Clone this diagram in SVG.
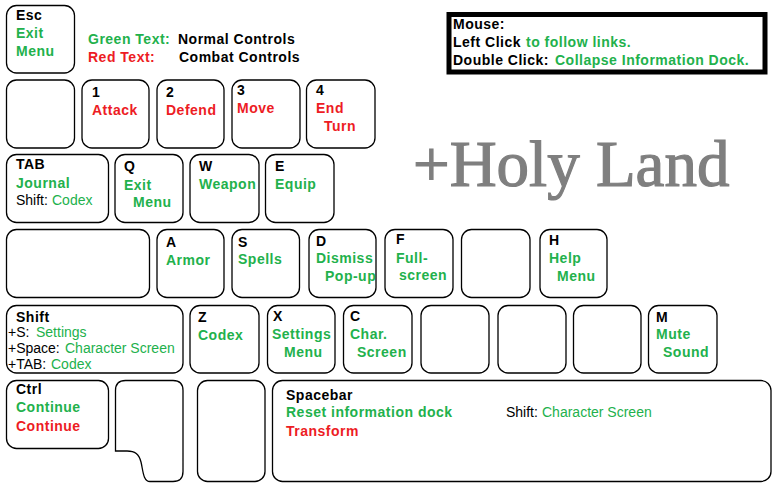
<svg xmlns="http://www.w3.org/2000/svg" width="779" height="490" viewBox="0 0 779 490">
<style>
.k{fill:#fff;stroke:#000;stroke-width:1.3}
text{font-family:"Liberation Sans",Arial,sans-serif;font-size:14px}
.b{font-weight:bold;letter-spacing:0.5px}
.r{font-weight:normal;letter-spacing:0px}
.g{fill:#22b14c}
.d{fill:#ed1c24}
.t{fill:#000}
</style>
<rect width="779" height="490" fill="#fff"/>

<g id="legend">
<text class="b g" x="88" y="44">Green Text:</text>
<text class="b t" x="178" y="44">Normal Controls</text>
<text class="b d" x="88" y="62">Red Text:</text>
<text class="b t" x="179" y="62">Combat Controls</text>
</g>

<g id="mouse">
<rect x="449" y="14.5" width="316" height="57.5" fill="#fff" stroke="#000" stroke-width="5"/>
<text class="b t" x="453" y="29">Mouse:</text>
<text class="b t" x="453" y="47">Left Click</text>
<text class="b g" x="526" y="47">to follow links.</text>
<text class="b t" x="453" y="65">Double Click:</text>
<text class="b g" x="555" y="65">Collapse Information Dock.</text>
</g>

<g id="title">
<text x="413" y="186" style="font-family:'Liberation Serif','Times New Roman',serif;font-size:65px" fill="#7f7f7f" stroke="#7f7f7f" stroke-width="1.2">+Holy Land</text>
</g>

<g id="key-esc">
<rect class="k" x="6.5" y="5.5" width="68" height="67.5" rx="10"/>
<text class="b t" x="16" y="20">Esc</text>
<text class="b g" x="16" y="38">Exit</text>
<text class="b g" x="16" y="56">Menu</text>
</g>

<g id="key-blank1"><rect class="k" x="6.5" y="80" width="68" height="68" rx="10"/></g>
<g id="key-1">
<rect class="k" x="82" y="80" width="67" height="68" rx="10"/>
<text class="b t" x="92" y="97">1</text>
<text class="b d" x="92" y="115">Attack</text>
</g>
<g id="key-2">
<rect class="k" x="157" y="80" width="67" height="68" rx="10"/>
<text class="b t" x="166" y="97">2</text>
<text class="b d" x="166" y="115">Defend</text>
</g>
<g id="key-3">
<rect class="k" x="232" y="80" width="68" height="68" rx="10"/>
<text class="b t" x="237" y="95">3</text>
<text class="b d" x="237" y="113">Move</text>
</g>
<g id="key-4">
<rect class="k" x="306.5" y="80" width="68.5" height="68" rx="10"/>
<text class="b t" x="316" y="95">4</text>
<text class="b d" x="316" y="113">End</text>
<text class="b d" x="324" y="131">Turn</text>
</g>

<g id="key-tab">
<rect class="k" x="6.5" y="154.5" width="102" height="68" rx="10"/>
<text class="b t" x="16" y="169">TAB</text>
<text class="b g" x="16" y="188">Journal</text>
<text class="r t" x="16" y="205">Shift:</text>
<text class="r g" x="52" y="205">Codex</text>
</g>
<g id="key-q">
<rect class="k" x="115" y="154.5" width="68" height="68" rx="10"/>
<text class="b t" x="124" y="171">Q</text>
<text class="b g" x="124" y="190">Exit</text>
<text class="b g" x="133" y="207">Menu</text>
</g>
<g id="key-w">
<rect class="k" x="190" y="154.5" width="69" height="68" rx="10"/>
<text class="b t" x="199" y="171">W</text>
<text class="b g" x="199" y="189">Weapon</text>
</g>
<g id="key-e">
<rect class="k" x="265.5" y="154.5" width="68.5" height="68" rx="10"/>
<text class="b t" x="275" y="171">E</text>
<text class="b g" x="275" y="189">Equip</text>
</g>

<g id="key-blank2"><rect class="k" x="6.5" y="229.5" width="143" height="68" rx="10"/></g>
<g id="key-a">
<rect class="k" x="157" y="229.5" width="67" height="68" rx="10"/>
<text class="b t" x="166" y="247">A</text>
<text class="b g" x="166" y="265">Armor</text>
</g>
<g id="key-s">
<rect class="k" x="232" y="229.5" width="67.5" height="68" rx="10"/>
<text class="b t" x="238" y="247">S</text>
<text class="b g" x="238" y="264">Spells</text>
</g>
<g id="key-d">
<rect class="k" x="309" y="229.5" width="67" height="68" rx="10"/>
<text class="b t" x="316" y="246">D</text>
<text class="b g" x="316" y="263">Dismiss</text>
<text class="b g" x="325" y="281">Pop-up</text>
</g>
<g id="key-f">
<rect class="k" x="385" y="229.5" width="68" height="68" rx="10"/>
<text class="b t" x="396" y="244">F</text>
<text class="b g" x="396" y="263">Full-</text>
<text class="b g" x="399" y="280">screen</text>
</g>
<g id="key-blank3"><rect class="k" x="461.5" y="229.5" width="68.5" height="68" rx="10"/></g>
<g id="key-h">
<rect class="k" x="540" y="229.5" width="67" height="68" rx="10"/>
<text class="b t" x="549" y="245">H</text>
<text class="b g" x="549" y="263">Help</text>
<text class="b g" x="557" y="281">Menu</text>
</g>

<g id="key-shift">
<rect class="k" x="6.5" y="305.5" width="176.5" height="67.5" rx="10"/>
<text class="b t" x="16" y="322">Shift</text>
<text class="r t" x="8" y="337">+S:</text>
<text class="r g" x="36" y="337">Settings</text>
<text class="r t" x="8" y="353">+Space:</text>
<text class="r g" x="65" y="353">Character Screen</text>
<text class="r t" x="8" y="369">+TAB:</text>
<text class="r g" x="51" y="369">Codex</text>
</g>
<g id="key-z">
<rect class="k" x="190" y="305.5" width="69" height="67.5" rx="10"/>
<text class="b t" x="198" y="322">Z</text>
<text class="b g" x="198" y="340">Codex</text>
</g>
<g id="key-x">
<rect class="k" x="267.5" y="305.5" width="67.5" height="67.5" rx="10"/>
<text class="b t" x="273" y="321">X</text>
<text class="b g" x="272" y="339">Settings</text>
<text class="b g" x="284" y="357">Menu</text>
</g>
<g id="key-c">
<rect class="k" x="343.5" y="305.5" width="68.5" height="67.5" rx="10"/>
<text class="b t" x="350" y="321">C</text>
<text class="b g" x="350" y="339">Char.</text>
<text class="b g" x="357" y="357">Screen</text>
</g>
<g id="key-blank4"><rect class="k" x="421" y="305.5" width="68" height="67.5" rx="10"/></g>
<g id="key-blank5"><rect class="k" x="498" y="305.5" width="68" height="67.5" rx="10"/></g>
<g id="key-blank6"><rect class="k" x="573.5" y="305.5" width="67.5" height="67.5" rx="10"/></g>
<g id="key-m">
<rect class="k" x="648.5" y="305.5" width="68.5" height="67.5" rx="10"/>
<text class="b t" x="656" y="322">M</text>
<text class="b g" x="656" y="339">Mute</text>
<text class="b g" x="663" y="357">Sound</text>
</g>

<g id="key-ctrl">
<rect class="k" x="6.5" y="380.5" width="102" height="68" rx="10"/>
<text class="b t" x="16" y="394">Ctrl</text>
<text class="b g" x="16" y="412">Continue</text>
<text class="b d" x="16" y="431">Continue</text>
</g>
<g id="key-notch">
<path class="k" d="M115.5,451 L115.5,390.5 Q115.5,380.5 125.5,380.5 L173,380.5 Q183,380.5 183,390.5 L183,471.5 Q183,481.5 173,481.5 L150,481.5 C143,481.5 143,470 141,462 C139,454 135,451 127,451 Z"/>
</g>
<g id="key-blank7"><rect class="k" x="197.5" y="380.5" width="67.5" height="101" rx="10"/></g>
<g id="key-space">
<rect class="k" x="272.5" y="380.5" width="498.5" height="101" rx="10"/>
<text class="b t" x="286" y="400">Spacebar</text>
<text class="b g" x="286" y="417">Reset information dock</text>
<text class="b d" x="286" y="436">Transform</text>
<text class="r t" x="506" y="417">Shift:</text>
<text class="r g" x="542" y="417">Character Screen</text>
</g>
<g id="connectors"/>
</svg>
